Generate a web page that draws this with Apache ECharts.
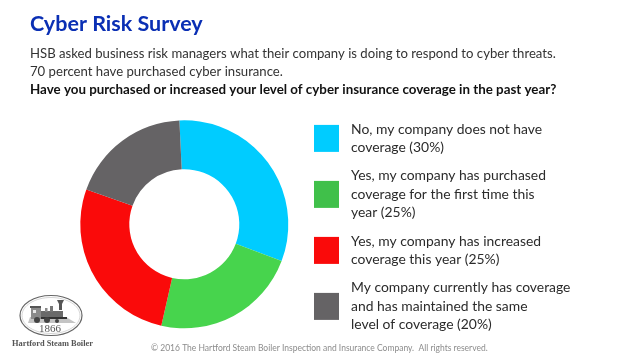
<!DOCTYPE html>
<html>
<head>
<meta charset="utf-8">
<style>
  html, body { margin: 0; padding: 0; background: #fff; }
  #main { width: 640px; height: 360px; }
</style>
<script src="https://cdn.jsdelivr.net/npm/echarts@6/dist/echarts.min.js"></script>
</head>
<body>
<div id="main"></div>
<script>
// legend text carries the printed percentages, the slices follow the drawn shares
const categories = [
  "No, my company does not have\ncoverage (30%)",
  "Yes, my company has purchased\ncoverage for the first time this\nyear (25%)",
  "Yes, my company has increased\ncoverage this year (25%)",
  "My company currently has coverage\nand has maintained the same\nlevel of coverage (20%)",
];
const sliceValues = [31.5, 22.8, 26.9, 18.8];
const sliceColors = ["#00ccff", "#47d44d", "#fa0a0a", "#656365"];
const legendColors = ["#00ccff", "#40c04a", "#fa0a0a", "#656365"];

const titleText = "Cyber Risk Survey";
const introText = "HSB asked business risk managers what their company is doing to respond to cyber threats.\n70 percent have purchased cyber insurance.";
const questionText = "Have you purchased or increased your level of cyber insurance coverage in the past year?";
const footerText = "© 2016 The Hartford Steam Boiler Inspection and Insurance Company.  All rights reserved.";

const FONT = "Lato, 'Open Sans', sans-serif";
const myChart = echarts.init(document.getElementById("main"));

const option = {
  backgroundColor: "#fff",
  animation: false,
  legend: {
    orient: "vertical",
    left: 314,
    top: 120,
    padding: 0,
    itemWidth: 25,
    itemHeight: 27,
    itemGap: 10,
    selectedMode: false,
    icon: "rect",
    textStyle: {
      fontFamily: FONT,
      fontSize: 13.9,
      lineHeight: 18.4,
      color: "#2b2b2b",
      padding: [0, 0, 0, 7],
    },
    data: categories.map(function (name, i) {
      return { name: name, itemStyle: { color: legendColors[i] } };
    }),
  },
  series: [
    {
      type: "pie",
      center: [184.3, 224.3],
      radius: [55, 104],
      startAngle: 92.7,
      clockwise: true,
      label: { show: false },
      labelLine: { show: false },
      data: categories.map(function (name, i) {
        return { name: name, value: sliceValues[i], itemStyle: { color: sliceColors[i] } };
      }),
    },
  ],
  graphic: [
    { type: "text", left: 30, top: 13, style: { text: titleText, font: "bold 21.5px " + FONT, fill: "#0a2fb4" } },
    { type: "text", left: 30, top: 45, style: { text: introText, font: "13.15px " + FONT, fill: "#333", lineHeight: 18 } },
    { type: "text", left: 30, top: 83, style: { text: questionText, font: "bold 13.35px " + FONT, fill: "#111" } },
    { type: "text", left: 151, top: 344, style: { text: footerText, font: "8.5px " + FONT, fill: "#8c8c8c" } },
    // logo
    { type: "ellipse", shape: { cx: 51, cy: 315.5, rx: 31, ry: 20 }, style: { fill: "#fff", stroke: "#666", lineWidth: 1.2 } },
    { type: "ellipse", shape: { cx: 51, cy: 315.5, rx: 29, ry: 18 }, style: { fill: "#fff", stroke: "#bbb", lineWidth: 0.6 } },
    { type: "polygon", shape: { points: [[28, 323], [76, 323], [66, 317], [30, 317]] }, style: { fill: "#c4c4c4" } },
    { type: "rect", shape: { x: 30, y: 306, width: 11, height: 2 }, style: { fill: "#555" } },
    { type: "rect", shape: { x: 31, y: 308, width: 10, height: 11 }, style: { fill: "#8a8a8a" } },
    { type: "rect", shape: { x: 33, y: 310, width: 3, height: 3 }, style: { fill: "#e8e8e8" } },
    { type: "rect", shape: { x: 41, y: 311, width: 22, height: 7 }, style: { fill: "#6a6a6a" } },
    { type: "rect", shape: { x: 41, y: 317, width: 26, height: 2 }, style: { fill: "#333" } },
    { type: "polygon", shape: { points: [[59, 310], [62, 310], [62, 304], [64, 300], [57, 300], [59, 304]] }, style: { fill: "#555" } },
    { type: "rect", shape: { x: 50, y: 306, width: 3, height: 6 }, style: { fill: "#777" } },
    { type: "rect", shape: { x: 45, y: 308, width: 2.5, height: 4 }, style: { fill: "#888" } },
    { type: "circle", shape: { cx: 37, cy: 320, r: 3 }, style: { fill: "#444" } },
    { type: "circle", shape: { cx: 47, cy: 320, r: 3 }, style: { fill: "#444" } },
    { type: "circle", shape: { cx: 57, cy: 321, r: 2 }, style: { fill: "#444" } },
    { type: "text", left: 39, top: 324, style: { text: "1866", font: "11px 'Liberation Serif', serif", fill: "#555" } },
    { type: "text", left: 12, top: 340, style: { text: "Hartford Steam Boiler", font: "bold 8.4px 'Liberation Serif', serif", fill: "#555" } },
  ],
};
myChart.setOption(option);
</script>
</body>
</html>
